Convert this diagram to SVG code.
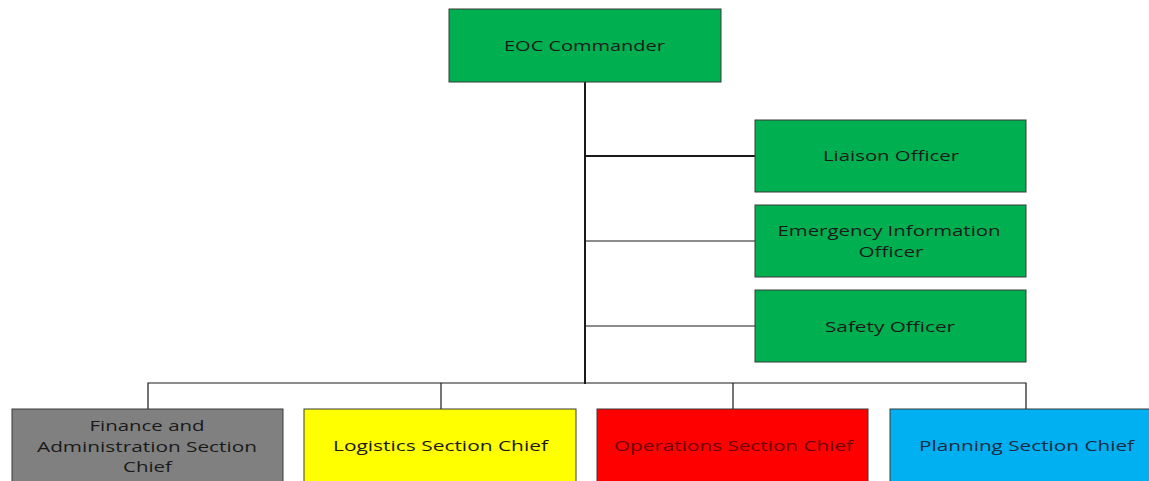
<svg xmlns="http://www.w3.org/2000/svg" width="1149" height="481" viewBox="0 0 1149 481">
<style>
.box{stroke:#3a3a3a;stroke-width:1}
.g{fill:#00B050}
.t{font-family:"Open Sans","Noto Sans",sans-serif;font-size:14.5px;text-anchor:middle;fill:#1a1a1a}
.c{stroke:#1a1a1a;fill:none}
</style>
<rect width="1149" height="481" fill="#ffffff"/>
<g id="connectors">
<line class="c" x1="585" y1="82" x2="585" y2="384" stroke-width="2"/>
<line class="c" x1="585" y1="156" x2="755" y2="156" stroke-width="2"/>
<line class="c" x1="585" y1="241" x2="755" y2="241" stroke-width="1.2"/>
<line class="c" x1="585" y1="326" x2="755" y2="326" stroke-width="1.2"/>
<polyline class="c" points="148,409 148,383 1026,383 1026,409" stroke-width="1.2"/>
<line class="c" x1="441" y1="383" x2="441" y2="409" stroke-width="1.2"/>
<line class="c" x1="733" y1="383" x2="733" y2="409" stroke-width="1.2"/>
</g>
<g id="eoc-commander">
<rect class="box g" x="449" y="9" width="272" height="73"/>
<text class="t" x="584.5" y="51" textLength="161" lengthAdjust="spacingAndGlyphs">EOC Commander</text>
</g>
<g id="liaison-officer">
<rect class="box g" x="755" y="120" width="271" height="72"/>
<text class="t" x="891" y="161" textLength="136" lengthAdjust="spacingAndGlyphs">Liaison Officer</text>
</g>
<g id="emergency-information-officer">
<rect class="box g" x="755" y="205" width="271" height="72"/>
<text class="t" x="889" y="236" textLength="223" lengthAdjust="spacingAndGlyphs">Emergency Information</text>
<text class="t" x="891" y="257" textLength="65" lengthAdjust="spacingAndGlyphs">Officer</text>
</g>
<g id="safety-officer">
<rect class="box g" x="755" y="290" width="271" height="72"/>
<text class="t" x="890" y="332" textLength="130" lengthAdjust="spacingAndGlyphs">Safety Officer</text>
</g>
<g id="finance">
<rect class="box" fill="#808080" x="12" y="409" width="271" height="80"/>
<text class="t" x="147" y="431" textLength="115" lengthAdjust="spacingAndGlyphs">Finance and</text>
<text class="t" x="147" y="452" textLength="220" lengthAdjust="spacingAndGlyphs">Administration Section</text>
<text class="t" x="147.5" y="472" textLength="49" lengthAdjust="spacingAndGlyphs">Chief</text>
</g>
<g id="logistics">
<rect class="box" fill="#FFFF00" x="304" y="409" width="272" height="80"/>
<text class="t" x="440.5" y="451" textLength="215" lengthAdjust="spacingAndGlyphs">Logistics Section Chief</text>
</g>
<g id="operations">
<rect class="box" fill="#FF0000" x="597" y="409" width="271" height="80"/>
<text class="t" x="733.5" y="451" textLength="239" lengthAdjust="spacingAndGlyphs" style="fill:#6a0000">Operations Section Chief</text>
</g>
<g id="planning">
<rect class="box" fill="#00B0F0" x="890" y="409" width="272" height="80"/>
<text class="t" x="1026.5" y="451" textLength="215" lengthAdjust="spacingAndGlyphs" style="fill:#1a2a40">Planning Section Chief</text>
</g>
</svg>
